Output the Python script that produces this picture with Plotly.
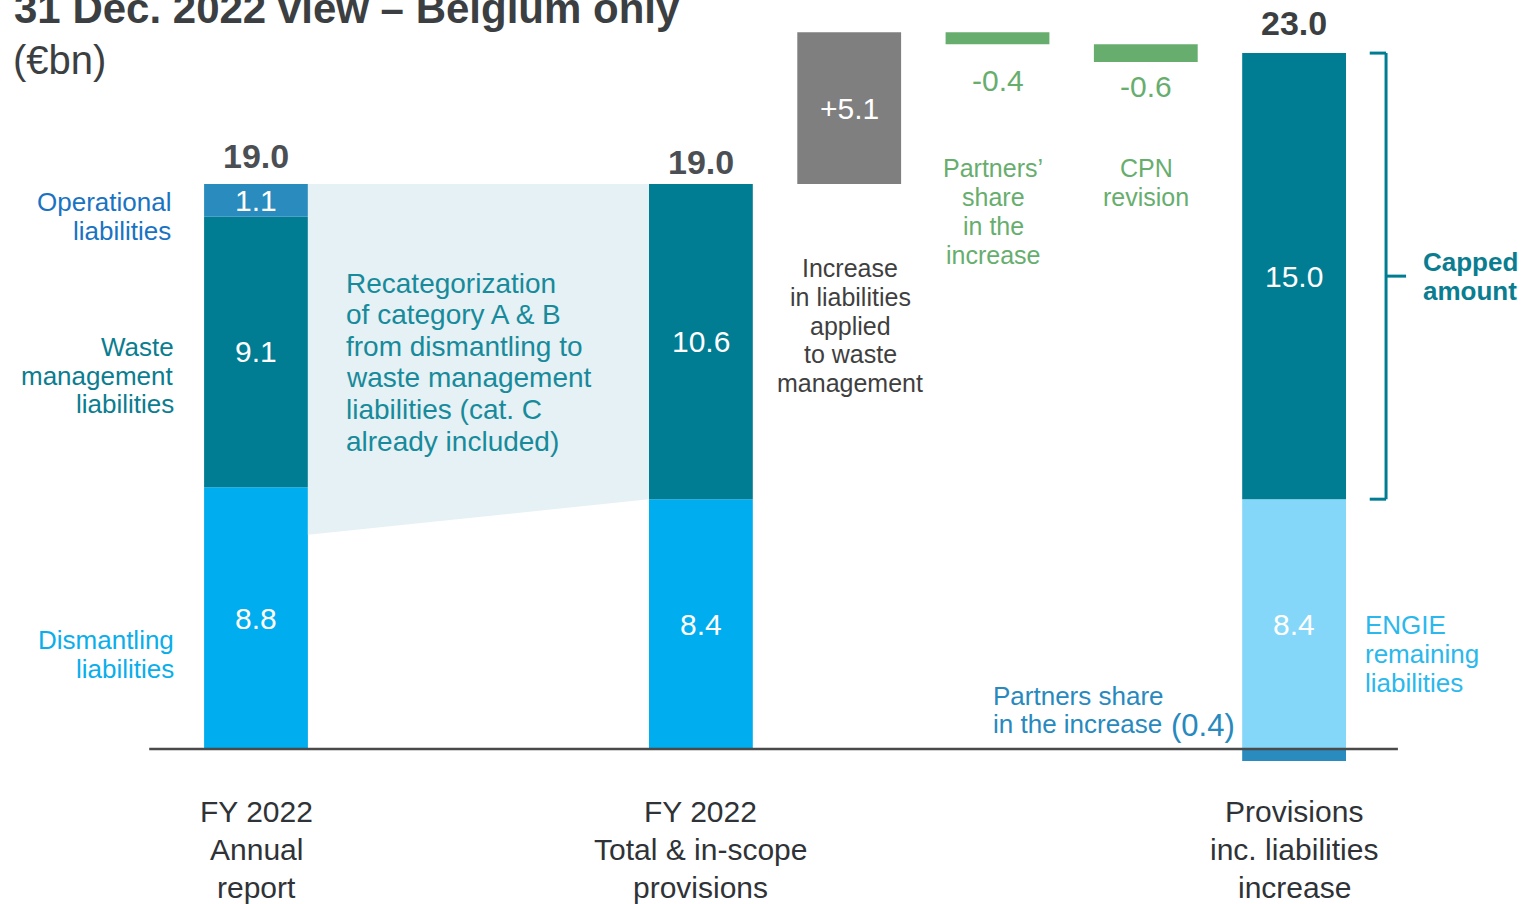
import plotly.graph_objects as go

# ---- data (EUR bn) ----
positions = [0, 3, 4, 5, 6, 7]          # slot of each column on the x axis
annual_dismantling = 8.8
annual_waste = 9.1
annual_operational = 1.1
inscope_dismantling = 8.4
inscope_waste = 10.6
total_annual = 19.0
total_inscope = 19.0
increase_waste = 5.1
partners_share = -0.4
cpn_revision = -0.6
engie_remaining = 8.4
capped_amount = 15.0
partners_below = -0.4
total_final = 23.0
recat_left_bottom = 7.2

category_labels = [
    ["FY 2022", "Annual", "report"],
    ["FY 2022", "Total & in-scope", "provisions"],
    ["Provisions", "inc. liabilities", "increase"],
]

# ---- styling ----
W, H = 1521, 904
FONT = "Liberation Sans, Arial, Helvetica, sans-serif"
C_DISM = "#00ADEF"
C_WASTE = "#007D93"
C_OPER = "#2A8BBE"
C_GREY = "#7F7F7F"
C_GREEN = "#67AE6E"
C_LIGHT = "#84D7F8"
C_RECAT = "#E5F1F4"
BAR_W = 0.70

fig = go.Figure()

# recategorization band between the first two columns
x_l = positions[0] + BAR_W / 2
x_r = positions[1] - BAR_W / 2
fig.add_trace(go.Scatter(
    x=[x_l, x_r, x_r, x_l, x_l],
    y=[total_annual, total_inscope, inscope_dismantling, recat_left_bottom, total_annual],
    fill="toself", fillcolor=C_RECAT, mode="none", hoverinfo="skip", showlegend=False))


def bar(x, y, base, color):
    fig.add_trace(go.Bar(x=x, y=y, base=base, width=BAR_W, marker_color=color,
                         marker_line_width=0, hoverinfo="skip", showlegend=False))


# stacked columns
bar([positions[0], positions[1]], [annual_dismantling, inscope_dismantling], [0, 0], C_DISM)
bar([positions[0], positions[1]], [annual_waste, inscope_waste],
    [annual_dismantling, inscope_dismantling], C_WASTE)
bar([positions[0]], [annual_operational], [annual_dismantling + annual_waste], C_OPER)

# waterfall steps
lvl1 = total_inscope + increase_waste
lvl2 = lvl1 + partners_share
lvl3 = lvl2 + cpn_revision
bar([positions[2]], [increase_waste], [total_inscope], C_GREY)
bar([positions[3]], [-partners_share], [lvl2], C_GREEN)
bar([positions[4]], [-cpn_revision], [lvl3], C_GREEN)

# final column
bar([positions[5]], [engie_remaining], [0], C_LIGHT)
bar([positions[5]], [capped_amount], [engie_remaining], C_WASTE)
bar([positions[5]], [partners_below], [0], C_OPER)

annotations = []


def note(x, y, text, size, color, xanchor="center", bold=False, xref="x", yref="y", yshift=0):
    if bold:
        text = "<b>" + text + "</b>"
    annotations.append(dict(x=x, y=y, xref=xref, yref=yref, text=text, showarrow=False,
                            xanchor=xanchor, yanchor="middle", yshift=yshift,
                            font=dict(family=FONT, size=size, color=color)))


def block(lines, x_px, y0_px, step, size, color, xanchor="center", bold=False):
    # multi-line text placed line by line in page pixels (padding compensated)
    pad = {"left": -2, "right": 2, "center": 0}[xanchor]
    for i, ln in enumerate(lines):
        note((x_px + pad) / W, 1 - (y0_px + i * step) / H, ln, size, color, xanchor, bold,
             xref="paper", yref="paper")


# values inside segments
def seg_label(x, base, val, color="white", size=30):
    note(x, base + val / 2, f"{val:.1f}", size, color)


seg_label(positions[0], 0, annual_dismantling)
seg_label(positions[0], annual_dismantling, annual_waste)
seg_label(positions[0], annual_dismantling + annual_waste, annual_operational)
seg_label(positions[1], 0, inscope_dismantling)
seg_label(positions[1], inscope_dismantling, inscope_waste)
note(positions[2], total_inscope + increase_waste / 2, f"+{increase_waste:.1f}", 30, "white")
seg_label(positions[5], 0, engie_remaining)
seg_label(positions[5], engie_remaining, capped_amount)

# step values under the green bars
note(positions[3], lvl2, f"{partners_share:.1f}", 30, C_GREEN, yshift=-36)
note(positions[4], lvl3, f"{cpn_revision:.1f}", 30, C_GREEN, yshift=-24)

# column totals
note(positions[0], total_annual, f"{total_annual:.1f}", 34, "#4B4F54", bold=True, yshift=28)
note(positions[1], total_inscope, f"{total_inscope:.1f}", 34, "#4B4F54", bold=True, yshift=22)
note(positions[5], engie_remaining + capped_amount, f"{total_final:.1f}", 34, "#3C3F42",
     bold=True, yshift=30)

# title
block(["<b>31 Dec. 2022 view – Belgium only</b>"], 14, 8, 0, 42, "#3C3F42", "left")
block(["(€bn)"], 13, 60, 0, 40, "#3C3F42", "left")

# side labels of the first column
block(["Operational", "liabilities"], 171, 202, 29, 26, "#1A73C2", "right")
block(["Waste", "management", "liabilities"], 174, 347, 28.5, 26, "#0A7D90", "right")
block(["Dismantling", "liabilities"], 174, 640, 29, 26, "#0AAEEB", "right")

block(["Recategorization", "of category A & B", "from dismantling to",
       "waste management", "liabilities (cat. C", "already included)"],
      346, 283, 31.6, 28, "#178A9B", "left")

block(["Increase", "in liabilities", "applied", "to waste", "management"],
      850, 268, 28.8, 25, "#3F3F3F")
block(["Partners’", "share", "in the", "increase"], 993, 168, 29, 25, C_GREEN)
block(["CPN", "revision"], 1146, 168, 29, 25, C_GREEN)

block(["Capped", "amount"], 1423, 262, 29, 26, "#0A7D90", "left", bold=True)
block(["ENGIE", "remaining", "liabilities"], 1365, 625, 29, 26, "#2BB8EC", "left")
block(["Partners share", "in the increase"], 993, 696, 28, 26, "#2889BE", "left")
block([f"({abs(partners_below):.1f})"], 1171, 725, 0, 31, "#2889BE", "left")

# category labels under the axis
for lines, slot in zip(category_labels, [positions[0], positions[1], positions[5]]):
    for i, ln in enumerate(lines):
        note(slot, 0, ln, 30, "#2F3337", yshift=-(62 + i * 38))

# bracket around the capped amount
bx = positions[5] + 0.62
tick = 0.11
cap_lo, cap_hi = engie_remaining, engie_remaining + capped_amount
shapes = [
    dict(type="line", x0=bx, x1=bx, y0=cap_lo, y1=cap_hi, line=dict(color=C_WASTE, width=3)),
    dict(type="line", x0=bx - tick, x1=bx, y0=cap_hi, y1=cap_hi, line=dict(color=C_WASTE, width=3)),
    dict(type="line", x0=bx - tick, x1=bx, y0=cap_lo, y1=cap_lo, line=dict(color=C_WASTE, width=3)),
    dict(type="line", x0=bx, x1=bx + 0.135, y0=(cap_lo + cap_hi) / 2, y1=(cap_lo + cap_hi) / 2,
         line=dict(color=C_WASTE, width=3)),
    # baseline
    dict(type="line", x0=-0.72, x1=7.70, y0=0, y1=0, layer="above",
         line=dict(color="#4A4A4A", width=2.5)),
]

fig.update_layout(
    width=W, height=H, margin=dict(l=0, r=0, t=0, b=0),
    paper_bgcolor="white", plot_bgcolor="white",
    barmode="overlay", showlegend=False,
    xaxis=dict(range=[-1.7262, 8.530], visible=False, fixedrange=True),
    yaxis=dict(range=[-5.212, 25.185], visible=False, fixedrange=True),
    annotations=annotations, shapes=shapes,
)

fig.write_html("out.html", config={"displayModeBar": False})
